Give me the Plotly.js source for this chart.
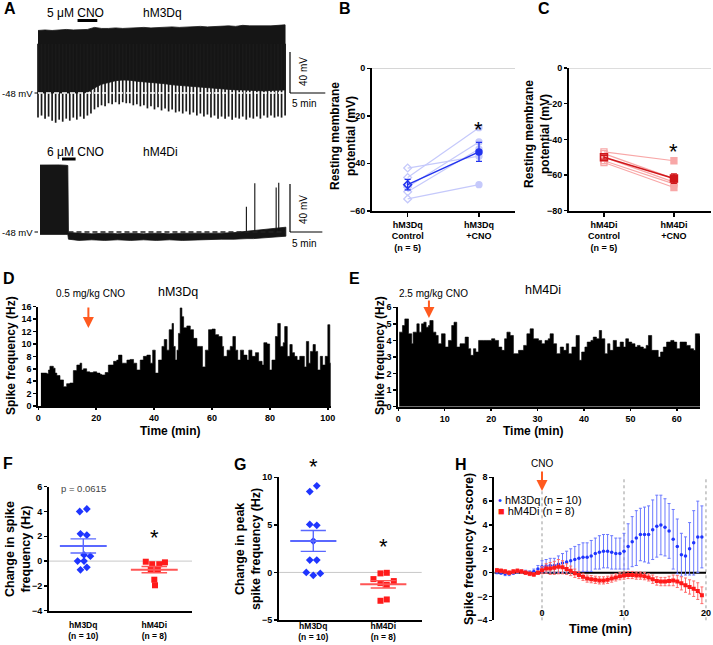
<!DOCTYPE html>
<html><head><meta charset="utf-8">
<script src="https://cdn.plot.ly/plotly-3.0.1.min.js"></script>
<style>html,body{margin:0;padding:0;background:#fff}#chart{width:713px;height:645px}</style>
</head><body><div id="chart"></div>
<script>
// ================= DATA =================
// Panel A, hM3Dq slice recording (time in min, membrane potential in mV)
const tA1 = [0,1,2,3,4,5,6,7,8,9,10,11,12,13,14,15,16,17,18,19,20,21,22,23,24,25,26,27,28,29,30,31,32,33,34,35];
const peakA1 = [13,13.5,13,13.5,14,13.5,14,14,16,15,15,15.5,15,15.5,15.5,16,15.5,16,16,16.5,16,16.5,16.5,17,16.5,17,17,17.5,17,18,17.5,17.5,17,17.5,18,18.5];
const floorA1 = [-48,-48,-48,-48,-48,-48,-48,-47.5,-43,-39.5,-37.5,-36,-35.3,-35.5,-36.5,-37,-37.5,-38.5,-39,-40,-40.5,-41,-41.5,-42.5,-43,-43.5,-44,-44.5,-45,-45,-45.5,-45.5,-46,-45.5,-45,-45];
const tA1t = [0,0.5,1,1.5,2,2.5,3,3.5,4,4.5,5,5.5,6,6.5,7,7.5,8,8.5,9,9.5,10,10.5,11,11.5,12,12.5,13,13.5,14,14.5,15,15.5,16,16.5,17,17.5,18,18.5,19,19.5,20,20.5,21,21.5,22,22.5,23,23.5,24,24.5,25,25.5,26,26.5,27,27.5,28,28.5,29,29.5,30,30.5,31,31.5,32,32.5,33,33.5,34,34.5,35];
const troughA1 = [-72,-70,-73,-71,-75,-77,-74,-76,-73,-75,-72,-74,-71,-73,-70,-68,-64,-62,-60,-61,-58,-59,-57,-59,-57,-58,-58,-60,-59,-61,-60,-63,-61,-64,-62,-65,-63,-66,-64,-67,-66,-68,-66,-69,-67,-70,-68,-71,-69,-72,-70,-73,-71,-73,-71,-74,-72,-73,-71,-74,-72,-73,-71,-73,-70,-72,-70,-72,-71,-72,-70];
const cnoA1 = [5.6, 8.4];
// Panel A, hM4Di slice recording
const tA2 = [0,1,2,3,4,4.3,4.4,6,8,10,12,14,16,18,20,22,24,26,28,30,31,32,33,34,35,36,37,38];
const upA2 = [7.8,8,7.8,7.9,7.6,7.4,-48.5,-49,-49.5,-49,-49.5,-49,-49.5,-49,-49.5,-49,-49,-49.5,-49,-48.5,-48,-47.5,-47,-46.5,-46,-45,-44.5,-44];
const lowA2 = [-50,-50,-50,-50,-50,-50,-54,-55,-54.5,-55,-54.5,-55,-54.5,-55,-54.5,-55,-54.5,-54.5,-54,-54,-54,-53.5,-53.5,-53,-53,-52.5,-52,-51.5];
const spikeA2t = [31.9, 33.2, 36.5, 36.9];
const spikeA2v = [-27, -7.4, -11, -6.9];
const cnoA2 = [3.4, 5.5];
const restA = -48, scaleMv = 40, scaleMin = 5;

// Panel B
const catB = ['hM3Dq<br>Control<br>(n = 5)', 'hM3Dq<br>+CNO'];
const ctrlB = [-42, -46, -50, -52, -55];
const cnoB  = [-37, -25, -31, -34, -49];
const meanB = [-49, -35.2], semB = [2.2, 4.0];
// Panel C
const catC = ['hM4Di<br>Control<br>(n = 5)', 'hM4Di<br>+CNO'];
const ctrlC = [-47, -48, -50, -52, -53];
const cnoC  = [-52, -62, -64, -65, -67];
const meanC = [-50, -62], semC = [1.1, 2.6];

// Panel D (hM3Dq, 0.5 mg/kg CNO)
const tD = [0.9,2.9,3.5,4.0,5.2,5.8,6.4,7.5,8.7,9.8,10.9,12.1,13.3,14.4,15.0,15.6,16.7,17.8,19.0,20.2,21.3,21.9,23.1,24.2,26.0,27.1,27.7,28.9,30.6,31.7,32.9,34.0,35.2,36.3,37.5,38.7,39.5,40.4,41.5,42.7,43.5,44.4,45.2,46.2,46.7,47.3,47.9,48.4,49.0,49.6,50.2,51.3,52.5,53.6,54.8,56.0,56.7,57.7,58.8,60.0,61.1,62.3,63.5,64.0,65.2,66.3,67.2,68.1,68.9,69.8,70.9,72.1,72.7,73.8,75.0,76.1,77.3,77.9,79.0,79.9,80.7,81.9,82.7,83.6,84.6,85.1,86.0,86.9,87.7,88.5,89.4,90.3,91.1,91.9,92.6,93.4,94.0,94.9,95.7,96.5,97.4,98.2,99.1,100.0,100.7,101.0];
const hzD = [5.3,5.2,5.8,6.4,6.1,5.3,4.9,4.2,3.1,3.6,3.7,5.7,6.6,6.9,5.8,6.0,5.5,5.4,5.5,5.3,5.1,5.0,5.4,6.6,7.2,7.4,8.2,6.9,7.4,7.5,6.9,5.8,7.4,8.0,8.2,6.9,9.0,5.3,7.4,9.6,10.7,9.0,12.3,13.3,9.6,7.4,9.0,11.7,15.8,14.4,12.6,12.9,12.3,10.9,9.6,9.6,6.3,9.0,12.3,12.4,11.5,11.2,9.6,8.0,9.0,9.6,11.2,9.0,7.4,9.0,8.2,7.4,9.0,8.0,8.6,7.2,6.6,10.2,10.0,5.8,7.4,11.2,13.3,9.6,10.2,12.8,8.0,9.9,8.6,8.0,7.4,8.0,8.0,6.3,10.4,6.9,8.8,9.9,8.8,5.8,8.0,6.6,8.0,13.1,6.9,6.9];
const cnoTimeD = 17.3;
// Panel E (hM4Di, 2.5 mg/kg CNO)
const tE = [0.2,0.9,1.4,2.2,2.9,3.2,4.0,4.5,5.0,5.5,6.0,6.5,6.8,7.5,8.1,8.6,9.3,10.1,10.8,11.5,12.0,12.6,13.3,14.4,15.1,15.6,16.2,16.7,17.3,18.3,19.1,20.1,20.8,21.6,22.3,22.9,23.4,24.1,24.8,25.9,27.0,27.7,28.4,29.1,30.2,30.9,31.6,32.3,32.7,33.4,34.1,34.9,35.6,36.2,36.7,37.4,38.3,39.0,39.5,40.2,40.7,41.5,42.0,42.7,43.3,43.8,44.5,45.1,45.6,46.3,47.0,47.8,48.5,49.0,49.6,50.3,51.0,51.5,52.1,52.8,53.4,53.9,54.6,55.3,56.0,56.5,57.1,57.8,58.7,59.4,60.0,60.7,61.4,62.1,62.9,63.6,64.0,64.9,65.0];
const hzE = [4.5,4.9,5.3,4.4,3.8,4.5,5.0,4.5,5.0,5.1,4.8,4.9,5.2,4.5,4.3,3.8,4.4,3.6,4.0,4.9,5.1,3.6,3.8,4.2,3.5,3.1,3.5,3.3,4.0,4.0,4.0,4.1,4.0,3.6,3.4,4.1,4.5,4.3,3.2,3.4,3.7,4.4,4.7,4.1,4.0,3.8,4.0,4.1,4.4,3.8,3.2,3.6,3.4,3.8,3.2,3.6,4.3,2.8,3.3,3.6,3.9,4.0,4.2,4.1,4.6,4.1,3.2,3.8,3.4,4.0,3.6,3.9,3.6,4.1,3.9,3.8,3.6,3.7,3.6,3.5,3.7,4.3,3.4,3.4,3.0,3.3,3.6,3.9,4.0,3.9,3.5,3.9,3.9,3.7,3.5,3.4,4.4,4.3,4.3];
const cnoTimeE = 6.6;

// Panel F (change in spike frequency, Hz)
const catFG = ['hM3Dq<br>(n = 10)', 'hM4Di<br>(n = 8)'];
const valF_M3 = [4.0, 4.2, 2.2, 2.1, 0.5, 0.4, 0.0, 0.0, -0.5, -0.7];
const jitF_M3 = [-0.05, 0.05, -0.04, 0.05, 0.01, 0.1, -0.08, 0.01, 0.05, -0.04];
const valF_M4 = [-0.05, -0.25, -0.25, -0.1, -0.7, -0.7, -1.5, -1.95];
const jitF_M4 = [-0.12, -0.03, 0.07, 0.15, -0.05, 0.05, 0.0, 0.01];
const meanF = [1.22, -0.69], semF = [0.57, 0.25];
// Panel G (change in peak spike frequency, Hz)
const valG_M3 = [8.5, 9.1, 5.05, 4.95, 3.3, 1.3, 1.3, 0.0, -0.3, -0.1];
const jitG_M3 = [-0.05, 0.05, -0.05, 0.05, 0.0, -0.05, 0.05, -0.1, 0.0, 0.1];
const valG_M4 = [-0.1, -0.04, -0.7, -1.12, -1.3, -0.91, -2.98, -2.84];
const jitG_M4 = [-0.04, 0.05, -0.14, -0.04, 0.05, 0.15, -0.04, 0.05];
const meanG = [3.31, -1.25], semG = [1.1, 0.39];

// Panel H (z-score time course)
const tH = [-5.5,-5,-4.5,-4,-3.5,-3,-2.5,-2,-1.5,-1,-0.5,0,0.5,1,1.5,2,2.5,3,3.5,4,4.5,5,5.5,6,6.5,7,7.5,8,8.5,9,9.5,10,10.5,11,11.5,12,12.5,13,13.5,14,14.5,15,15.5,16,16.5,17,17.5,18,18.5,19,19.5];
const mH_M3 = [0.05,0.0,-0.1,-0.1,0.0,0.1,0.1,0.05,0.0,0.1,0.3, 0.5,0.55,0.6,0.6,0.7,0.8,0.9,1.0,1.1,1.2, 1.3,1.3,1.4,1.6,1.7,1.8,1.8,1.7,1.6,1.6, 1.8,2.2,2.6,2.9,3.2,3.2,3.2,3.6,3.9,4.0, 3.8,3.5,2.8,2.2,1.5,1.4,2.0,2.5,3.0,3.0];
const sH_M3 = [0.15,0.15,0.15,0.15,0.15,0.15,0.15,0.15,0.15,0.2,0.3, 0.5,0.55,0.6,0.6,0.7,0.8,0.9,1.0,1.1,1.15, 1.2,1.2,1.3,1.3,1.4,1.4,1.4,1.4,1.3,1.3, 1.5,1.9,2.1,2.3,2.2,2.3,2.4,2.5,2.6,2.5, 2.4,2.3,2.5,2.3,1.8,1.6,2.2,2.7,3.0,2.6];
const mH_M4 = [0.2,0.15,0.1,0.0,0.1,0.15,0.1,0.0,-0.1,-0.15,0.0, 0.2,0.35,0.35,0.4,0.5,0.45,0.3,0.15,-0.05,-0.2, -0.35,-0.5,-0.55,-0.6,-0.65,-0.65,-0.6,-0.5,-0.4,-0.3, -0.25,-0.2,-0.2,-0.25,-0.25,-0.3,-0.4,-0.55,-0.7,-0.75, -0.75,-0.7,-0.65,-0.75,-0.9,-1.05,-1.2,-1.35,-1.55,-1.9];
const sH_M4 = [0.15,0.15,0.15,0.15,0.15,0.15,0.15,0.15,0.15,0.15,0.15, 0.3,0.4,0.5,0.55,0.6,0.55,0.45,0.4,0.35,0.3, 0.3,0.3,0.3,0.3,0.3,0.3,0.3,0.3,0.3,0.3, 0.3,0.3,0.3,0.3,0.3,0.3,0.3,0.35,0.35,0.35, 0.35,0.4,0.45,0.5,0.55,0.6,0.6,0.65,0.7,0.7];
const cnoTimeH = 0;
const vlinesH = [0, 10, 20];

// ================= LAYOUT HELPERS =================
const W = 713, H = 645, FF = 'Liberation Sans, Arial, Helvetica, sans-serif';
const px = x => x / W, py = y => 1 - y / H;
const xd = (a, b) => [a / W, b / W], yd = (t, b) => [1 - b / H, 1 - t / H];
const BLUE = '#1f35ff', LBLUE = '#c5c9fb', BLUE2 = '#5a68ff';
const RED = '#ff1a1a', LRED = '#f8a7a7', DRED = '#d0161a', RED2 = '#ff5555';
const ORANGE = '#ff5a1f';

function ax(o) {
  return Object.assign({showgrid:false, zeroline:false, showline:true, linecolor:'#000', linewidth:2,
    ticks:'outside', ticklen:3, tickwidth:1.5, tickcolor:'#000',
    tickfont:{family:FF, size:9, color:'#000', weight:'bold'}, automargin:false, fixedrange:true}, o);
}
function T(text, x, y, size, o) {
  return Object.assign({xref:'paper', yref:'paper', x:px(x), y:py(y), text:text, showarrow:false,
    xanchor:'center', yanchor:'middle', font:{family:FF, size:size, color:'#000'}}, o || {});
}
const A1 = {x0:38, sx:7.06, y0:93, sy:1.025};
const A2 = {x0:40, sx:6.47, y0:232, sy:1.2};
const sbA1 = (290 - A1.x0) / A1.sx, sbA2 = (290 - A2.x0) / A2.sx;
const catFont = {family:FF, size:8.5, color:'#000', weight:'bold'};

const traces = [];
// ---- Panel A top ----
traces.push({x: tA1.concat(tA1.slice().reverse()), y: peakA1.concat(floorA1.slice().reverse()),
  xaxis:'x', yaxis:'y', mode:'lines', fill:'toself', fillcolor:'#151515', line:{color:'#151515', width:0.8}});
traces.push({x: tA1t.flatMap(t => [t, t, null]), y: troughA1.flatMap(v => [v, 0, null]),
  xaxis:'x', yaxis:'y', mode:'lines', line:{color:'#1a1a1a', width:1.7}});
// ---- Panel A bottom ----
traces.push({x: tA2.concat(tA2.slice().reverse()), y: upA2.concat(lowA2.slice().reverse()),
  xaxis:'x2', yaxis:'y2', mode:'lines', fill:'toself', fillcolor:'#151515', line:{color:'#151515', width:0.8}});
traces.push({x: spikeA2t.flatMap(t => [t, t, null]), y: spikeA2v.flatMap(v => [restA, v, null]),
  xaxis:'x2', yaxis:'y2', mode:'lines', line:{color:'#111', width:1.1}});

// ---- Panel B ----
ctrlB.forEach((c, i) => traces.push({x:[0, 1], y:[c, cnoB[i]], xaxis:'x3', yaxis:'y3', mode:'lines+markers',
  line:{color:LBLUE, width:1.2}, marker:{symbol:['diamond-open', 'circle'], size:6, color:LBLUE, line:{width:1.3, color:LBLUE}}, cliponaxis:false}));
traces.push({x:[0, 1], y:meanB, xaxis:'x3', yaxis:'y3', mode:'lines+markers', line:{color:'#2233ee', width:1.5},
  marker:{symbol:['diamond-open', 'circle'], size:6, color:'#2233ee', line:{width:1.5, color:'#2233ee'}},
  error_y:{type:'data', array:semB, color:'#2233ee', thickness:1.3, width:3}, cliponaxis:false});
// ---- Panel C ----
ctrlC.forEach((c, i) => traces.push({x:[0, 1], y:[c, cnoC[i]], xaxis:'x4', yaxis:'y4', mode:'lines+markers',
  line:{color:LRED, width:1.2}, marker:{symbol:['square-open', 'square'], size:6, color:LRED, line:{width:1.3, color:LRED}}, cliponaxis:false}));
traces.push({x:[0, 1], y:meanC, xaxis:'x4', yaxis:'y4', mode:'lines+markers', line:{color:DRED, width:1.5},
  marker:{symbol:['square-open', 'square'], size:7, color:DRED, line:{width:1.5, color:DRED}},
  error_y:{type:'data', array:semC, color:DRED, thickness:1.3, width:3}, cliponaxis:false});

// ---- Panel D / E ----
traces.push({x:tD, y:hzD, xaxis:'x5', yaxis:'y5', mode:'lines', line:{shape:'hv', color:'#000', width:0.6}, fill:'tozeroy', fillcolor:'#000'});
traces.push({x:tE, y:hzE, xaxis:'x6', yaxis:'y6', mode:'lines', line:{shape:'hv', color:'#000', width:0.6}, fill:'tozeroy', fillcolor:'#000'});

// ---- Panel F / G ----
function dotPanel(xa, ya, v3, j3, v4, j4, mean, sem) {
  traces.push({x:j3.map(j => 0 + j), y:v3, xaxis:xa, yaxis:ya, mode:'markers', marker:{symbol:'diamond', size:6, color:BLUE}, cliponaxis:false});
  traces.push({x:j4.map(j => 1 + j), y:v4, xaxis:xa, yaxis:ya, mode:'markers', marker:{symbol:'square', size:6, color:RED}, cliponaxis:false});
  [0, 1].forEach(g => {
    const col = g === 0 ? BLUE2 : RED2, m = mean[g], s = sem[g];
    traces.push({x:[g - 0.33, g + 0.33], y:[m, m], xaxis:xa, yaxis:ya, mode:'lines', line:{color:col, width:2}});
    traces.push({x:[g - 0.18, g + 0.18, null, g - 0.18, g + 0.18, null, g, g],
      y:[m + s, m + s, null, m - s, m - s, null, m - s, m + s], xaxis:xa, yaxis:ya, mode:'lines', line:{color:col, width:1.4}});
  });
}
dotPanel('x7', 'y7', valF_M3, jitF_M3, valF_M4, jitF_M4, meanF, semF);
dotPanel('x8', 'y8', valG_M3, jitG_M3, valG_M4, jitG_M4, meanG, semG);

// ---- Panel H ----
traces.push({x:tH, y:mH_M3, xaxis:'x9', yaxis:'y9', mode:'markers', marker:{size:3.5, color:BLUE},
  error_y:{type:'data', array:sH_M3, color:'#6b79ff', thickness:1, width:1.5}});
traces.push({x:tH, y:mH_M4, xaxis:'x9', yaxis:'y9', mode:'lines+markers', line:{color:RED, width:1.5},
  marker:{symbol:'square', size:4, color:RED}, error_y:{type:'data', array:sH_M4, color:'#ff6a6a', thickness:1, width:1.5}});

// ================= AXES =================
const rangeH = [-5.82, 20.49];
const layout = {
  width:W, height:H, margin:{l:0, r:0, t:0, b:0}, showlegend:false, paper_bgcolor:'#fff', plot_bgcolor:'rgba(0,0,0,0)',
  font:{family:FF, color:'#000'},
  xaxis:{domain:xd(35, 330), range:[(35 - A1.x0) / A1.sx, (330 - A1.x0) / A1.sx], visible:false, anchor:'y', fixedrange:true},
  yaxis:{domain:yd(15, 130), range:[restA - (130 - A1.y0) / A1.sy, restA + (A1.y0 - 15) / A1.sy], visible:false, anchor:'x', fixedrange:true},
  xaxis2:{domain:xd(35, 330), range:[(35 - A2.x0) / A2.sx, (330 - A2.x0) / A2.sx], visible:false, anchor:'y2', fixedrange:true},
  yaxis2:{domain:yd(148, 250), range:[restA - (250 - A2.y0) / A2.sy, restA + (A2.y0 - 148) / A2.sy], visible:false, anchor:'x2', fixedrange:true},
  xaxis3:ax({domain:xd(372, 515), range:[-0.5, 1.505], anchor:'y3', tickvals:[0, 1], ticktext:catB, ticklen:4}),
  yaxis3:ax({domain:yd(68.3, 210.8), range:[-60, 0], anchor:'x3', tickvals:[0, -20, -40, -60]}),
  xaxis4:ax({domain:xd(569, 711), range:[-0.5, 1.53], anchor:'y4', tickvals:[0, 1], ticktext:catC, ticklen:4}),
  yaxis4:ax({domain:yd(68, 210.7), range:[-80, 0], anchor:'x4', tickvals:[0, -20, -40, -60, -80]}),
  xaxis5:ax({domain:xd(38.3, 331), range:[0, 101.1], anchor:'y5', tickvals:[0, 20, 40, 60, 80, 100], ticklen:2}),
  yaxis5:ax({domain:yd(306.7, 406), range:[0, 16], anchor:'x5', dtick:2}),
  xaxis6:ax({domain:xd(398.3, 700), range:[0, 65], anchor:'y6', tickvals:[0, 10, 20, 30, 40, 50, 60], ticklen:2}),
  yaxis6:ax({domain:yd(307.3, 406.7), range:[0, 6], anchor:'x6', dtick:1}),
  xaxis7:ax({domain:xd(49, 192), range:[-0.483, 1.531], anchor:'y7', tickvals:[0, 1], ticktext:catFG, ticks:'', ticklabelstandoff:5, tickfont:catFont}),
  yaxis7:ax({domain:yd(486.7, 610.7), range:[-4, 6], anchor:'x7', dtick:2}),
  xaxis8:ax({domain:xd(279, 421.7), range:[-0.49, 1.549], anchor:'y8', tickvals:[0, 1], ticktext:catFG, ticks:'', ticklabelstandoff:-3, tickfont:catFont}),
  yaxis8:ax({domain:yd(477.3, 620), range:[-5, 10], anchor:'x8', dtick:5}),
  xaxis9:ax({domain:xd(494.3, 710), range:rangeH, anchor:'free', position:py(606), tickvals:[0, 10, 20], showline:false, ticks:''}),
  yaxis9:ax({domain:yd(477.3, 620.3), range:[-4, 8], anchor:'x9', dtick:2}),
  shapes:[], annotations:[]
};
const S = layout.shapes, A = layout.annotations;
const ln = (o) => S.push(Object.assign({type:'line', layer:'above'}, o));
// Panel A shapes
ln({xref:'x', yref:'y', x0:tA1[0], x1:tA1[tA1.length - 1], y0:restA, y1:restA, line:{color:'#fff', width:1.5, dash:'5px,3px'}});
ln({xref:'paper', yref:'y', x0:px(34.5), x1:px(38), y0:restA, y1:restA, line:{color:'#000', width:1}});
ln({xref:'x', yref:'y', x0:sbA1, x1:sbA1, y0:restA, y1:restA + scaleMv, line:{color:'#000', width:1.2}});
ln({xref:'x', yref:'y', x0:sbA1, x1:sbA1 + scaleMin, y0:restA, y1:restA, line:{color:'#000', width:1.2}});
ln({xref:'x', yref:'paper', x0:cnoA1[0], x1:cnoA1[1], y0:py(20.5), y1:py(20.5), line:{color:'#000', width:3}});
ln({xref:'x2', yref:'y2', x0:tA2[6], x1:tA2[tA2.length - 1], y0:restA, y1:restA, line:{color:'#222', width:1.3, dash:'5px,3px'}});
ln({xref:'paper', yref:'y2', x0:px(34.5), x1:px(38), y0:restA, y1:restA, line:{color:'#000', width:1}});
ln({xref:'x2', yref:'y2', x0:sbA2, x1:sbA2, y0:restA, y1:restA + scaleMv, line:{color:'#000', width:1.2}});
ln({xref:'x2', yref:'y2', x0:sbA2, x1:sbA2 + scaleMin, y0:restA, y1:restA, line:{color:'#000', width:1.2}});
ln({xref:'x2', yref:'paper', x0:cnoA2[0], x1:cnoA2[1], y0:py(159), y1:py(159), line:{color:'#000', width:3}});
// zero lines
ln({xref:'x3 domain', yref:'y3', x0:0, x1:1, y0:0, y1:0, layer:'below', line:{color:'#bbb', width:1}});
ln({xref:'x4 domain', yref:'y4', x0:0, x1:1, y0:0, y1:0, layer:'below', line:{color:'#bbb', width:1}});
ln({xref:'x7 domain', yref:'y7', x0:0, x1:1, y0:0, y1:0, layer:'below', line:{color:'#c8c8c8', width:1}});
ln({xref:'x8 domain', yref:'y8', x0:0, x1:1, y0:0, y1:0, layer:'below', line:{color:'#c8c8c8', width:1}});
vlinesH.forEach(v => ln({xref:'x9', yref:'y9 domain', x0:v, x1:v, y0:0, y1:1, layer:'below', line:{color:'#999', width:1, dash:'dot'}}));
ln({xref:'x9', yref:'y9', x0:rangeH[0], x1:vlinesH[2], y0:0, y1:0, layer:'below', line:{color:'#000', width:2}});

// ================= TEXT =================
const L = (t, x, y) => A.push(T('<b>' + t + '</b>', x, y, 16, {xanchor:'left'}));
L('A', 2, 9); L('B', 337, 9); L('C', 536, 9); L('D', 1, 278); L('E', 347, 278); L('F', 1, 463); L('G', 232, 464); L('H', 453, 464);
// Panel A text
A.push(T('5 μM CNO', 75, 13, 12));
A.push(T('hM3Dq', 162, 13, 12));
A.push(T('-48 mV', 35, 93, 9.5, {xanchor:'right'}));
A.push(T('40 mV', 303, 72, 10, {textangle:-90}));
A.push(T('5 min', 304, 103, 10));
A.push(T('6 μM CNO', 75, 152, 12));
A.push(T('hM4Di', 160, 152, 12));
A.push(T('-48 mV', 35, 232, 9.5, {xanchor:'right'}));
A.push(T('40 mV', 303, 210, 10, {textangle:-90}));
A.push(T('5 min', 304, 243, 10));
// B / C
A.push(T('<b>Resting membrane<br>potential (mV)</b>', 343, 136, 12, {textangle:-90}));
A.push(T('<b>Resting membrane<br>potential (mV)</b>', 537, 134, 12, {textangle:-90}));
A.push({xref:'x3', yref:'paper', x:1, y:py(115), text:'*', showarrow:false, font:{family:FF, size:22, color:'#000'}});
A.push({xref:'x4', yref:'paper', x:1, y:py(137), text:'*', showarrow:false, font:{family:FF, size:22, color:'#000'}});
// D / E
A.push(T('0.5 mg/kg CNO', 90, 293, 10));
A.push(T('hM3Dq', 178, 292, 12.5));
A.push(T('2.5 mg/kg CNO', 433, 293, 10));
A.push(T('hM4Di', 543, 290, 12.5));
A.push(T('<b>Spike frequency (Hz)</b>', 11, 356, 12, {textangle:-90}));
A.push(T('<b>Spike frequency (Hz)</b>', 380, 356, 12, {textangle:-90}));
A.push(T('<b>Time (min)</b>', 170, 431, 12));
A.push(T('<b>Time (min)</b>', 533, 431, 12));
A.push({xref:'x5', yref:'paper', x:cnoTimeD, y:py(328), ax:0, ay:-22, text:'', showarrow:true, arrowhead:2, arrowsize:1.1, arrowwidth:2, arrowcolor:ORANGE});
A.push({xref:'x6', yref:'paper', x:cnoTimeE, y:py(318), ax:0, ay:-19, text:'', showarrow:true, arrowhead:2, arrowsize:1.1, arrowwidth:2, arrowcolor:ORANGE});
// F / G
A.push(T('<b>Change in spike<br>frequency (Hz)</b>', 18, 549, 12.5, {textangle:-90}));
A.push(T('<b>Change in peak<br>spike frequency (Hz)</b>', 248, 549, 12.5, {textangle:-90}));
A.push({xref:'x7', yref:'paper', x:0, y:py(496), text:'p = 0.0615', showarrow:false, font:{family:FF, size:9.5, color:'#444'}});
A.push({xref:'x7', yref:'paper', x:1, y:py(552), text:'*', showarrow:false, font:{family:FF, size:22, color:'#000'}});
A.push({xref:'x8', yref:'paper', x:0, y:py(481), text:'*', showarrow:false, font:{family:FF, size:22, color:'#000'}});
A.push({xref:'x8', yref:'paper', x:1, y:py(561), text:'*', showarrow:false, font:{family:FF, size:22, color:'#000'}});
// H
A.push(T('<b>Spike frequency (z-score)</b>', 469, 549, 12.5, {textangle:-90}));
A.push(T('<b>Time (min)</b>', 600, 629, 12.5));
A.push(T('CNO', 542, 463, 10));
A.push({xref:'x9', yref:'paper', x:cnoTimeH, y:py(491), ax:0, ay:-21, text:'', showarrow:true, arrowhead:2, arrowsize:1.1, arrowwidth:2, arrowcolor:ORANGE});
A.push(T('<span style="color:' + BLUE + '">•</span> hM3Dq (n = 10)', 496, 500, 11, {xanchor:'left'}));
A.push(T('<span style="color:' + RED + '">■</span> hM4Di (n = 8)', 496, 511, 11, {xanchor:'left'}));

Plotly.newPlot('chart', traces, layout, {staticPlot:true, displayModeBar:false});
</script></body></html>
